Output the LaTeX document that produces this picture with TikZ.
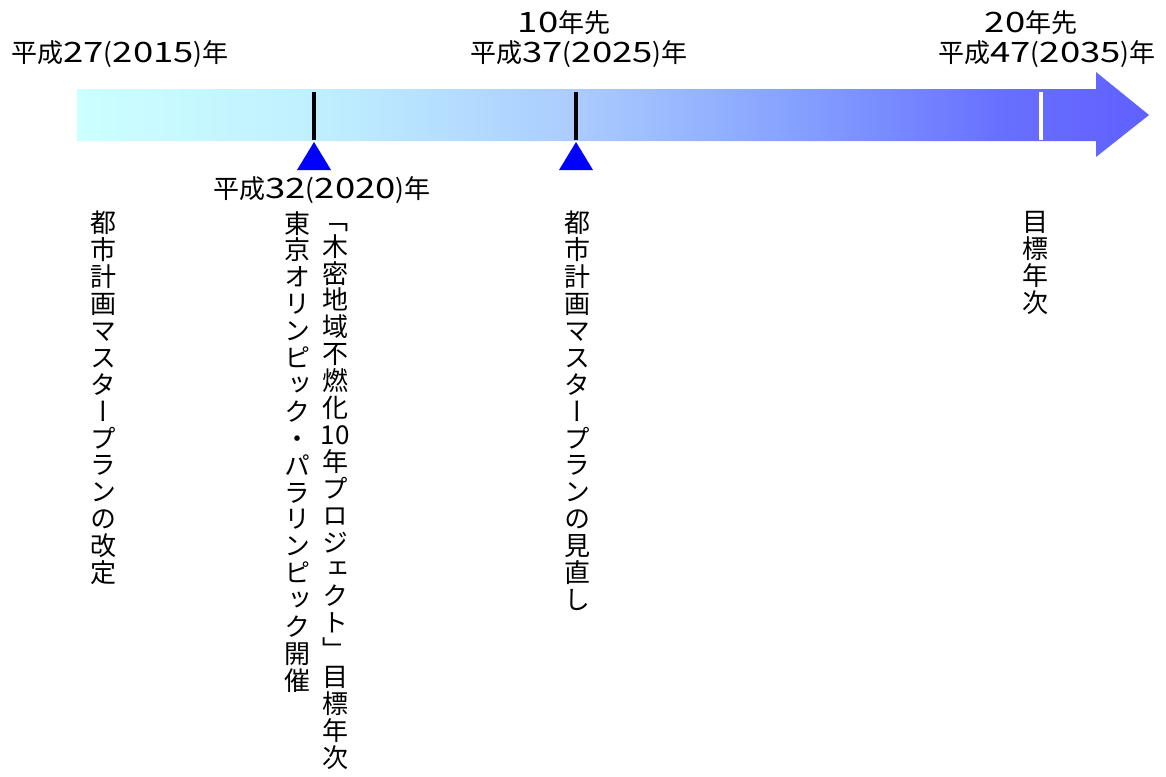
\documentclass[tikz,border=0pt]{standalone}
\usepackage{fontspec}
\setmainfont{Noto Sans CJK JP}
\newfontfamily\tatefont[RawFeature=+vert]{Noto Sans CJK JP}
\newfontfamily\dgfont[FakeStretch=1.3,Scale=1.08]{Noto Sans CJK JP}
\usetikzlibrary{positioning}

\definecolor{barstart}{RGB}{204,255,255}
\definecolor{barone}{RGB}{192,240,255}
\definecolor{bartwo}{RGB}{170,204,255}
\definecolor{barthree}{RGB}{132,160,255}
\definecolor{barfour}{RGB}{104,112,255}
\definecolor{barend}{RGB}{96,96,255}
\definecolor{markblue}{RGB}{0,0,255}

\pgfdeclarehorizontalshading{barshade}{100bp}{color(0bp)=(barstart); color(25bp)=(barstart);
  color(36bp)=(barone); color(48.3bp)=(bartwo); color(58.7bp)=(barthree);
  color(68bp)=(barfour); color(75bp)=(barend); color(100bp)=(barend)}

\newcommand\tatestrut{\rule[-4pt]{0pt}{22pt}}

\ExplSyntaxOn
\seq_new:N \l_tate_seq
\NewDocumentCommand\tate{m}{
  \seq_clear:N \l_tate_seq
  \tl_map_inline:nn {#1} {\seq_put_right:Nn \l_tate_seq {\tatestrut ##1}}
  \seq_use:Nn \l_tate_seq {\\}
}
\ExplSyntaxOff

\begin{document}
\begin{tikzpicture}[%
            x=1pt, y=-1pt,
            yearlabel/.style={font=\fontsize{26}{30}\selectfont, inner sep=0pt},
            tatelabel/.style={font=\tatefont\fontsize{26}{26.9}\selectfont,
                              align=center, anchor=north, inner sep=0pt},
            ticmark/.style={line width=4pt},
            marker/.style={fill=markblue}
            ]
            \useasboundingbox (0,0) rectangle (1166,776);

            % time bar
            \shade[shading=barshade]
                (77,89) -- (1096,89) -- (1096,72) -- (1149,115)
                -- (1096,157) -- (1096,141) -- (77,141) -- cycle;

            \coordinate (y2020) at (314,115);
            \coordinate (y2025) at (576,115);
            \coordinate (y2035) at (1041,115);

            \draw[ticmark, black] (y2020) ++(0,-23) -- ++(0,48);
            \draw[ticmark, black] (y2025) ++(0,-23) -- ++(0,48);
            \draw[ticmark, white] (y2035) ++(0,-23) -- ++(0,48);

            \fill[marker] (y2020) ++(0,27) -- ++(17,28) -- ++(-34,0) -- cycle;
            \fill[marker] (y2025) ++(0,27) -- ++(17,28) -- ++(-34,0) -- cycle;

            % years
            \node[yearlabel] (start)    at (120,54)  {平成{\dgfont 27}({\dgfont 2015})年};
            \node[yearlabel] (olympic)  at (322,190) {平成{\dgfont 32}({\dgfont 2020})年};
            \node[yearlabel] (ten)      at (564,23)  {{\dgfont 10}年先};
            \node[yearlabel] (review)   at (579,54)  {平成{\dgfont 37}({\dgfont 2025})年};
            \node[yearlabel] (twenty)   at (1031,23) {{\dgfont 20}年先};
            \node[yearlabel] (target)   at (1047,54) {平成{\dgfont 47}({\dgfont 2035})年};

            % events
            \node[tatelabel] (revisetext) at (103,211)  {\tate{都市計画マスタープランの改定}};
            \node[tatelabel] (gamestext)  at (297,211)  {\tate{東京オリンピック・パラリンピック開催}};
            \node[tatelabel] (fireproof)  at (335,211)  {\tate{「木密地域不燃化{10}年プロジェクト」目標年次}};
            \node[tatelabel] (reviewtext) at (577,211)  {\tate{都市計画マスタープランの見直し}};
            \node[tatelabel] (targettext) at (1035,211) {\tate{目標年次}};

        \end{tikzpicture}
\end{document}
